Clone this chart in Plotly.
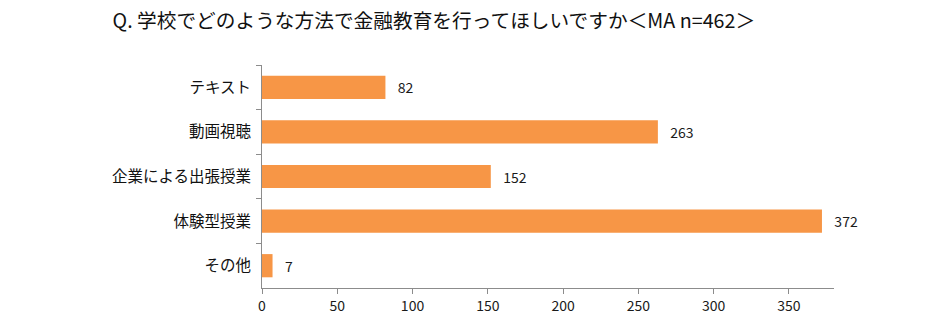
import plotly.graph_objects as go

categories = ["テキスト", "動画視聴", "企業による出張授業", "体験型授業", "その他"]
counts = [82, 263, 152, 372, 7]
x_ticks = [0, 50, 100, 150, 200, 250, 300, 350]

font_family = "Noto Sans CJK JP, sans-serif"
bar_color = "#F79646"
axis_color = "#8C8C8C"

fig = go.Figure(
    go.Bar(
        x=counts,
        y=categories,
        orientation="h",
        marker=dict(color=bar_color, line=dict(width=0)),
        # leading spaces push the value labels a little away from the bar ends
        text=["   " + str(v) for v in counts],
        textposition="outside",
        textfont=dict(family=font_family, size=14, color="#1a1a1a"),
        cliponaxis=False,
        width=0.52,
    )
)

fig.update_layout(
    width=946,
    height=327,
    margin=dict(l=262, r=112, t=65, b=34),
    paper_bgcolor="white",
    plot_bgcolor="white",
    showlegend=False,
    title=dict(
        text="Q. 学校でどのような方法で金融教育を行ってほしいですか＜MA n=462＞",
        x=0.119,
        xanchor="left",
        y=0.935,
        yanchor="middle",
        font=dict(family=font_family, size=19.7, color="#111111"),
    ),
    font=dict(family=font_family, color="#1a1a1a"),
)

fig.update_xaxes(
    range=[0, 380],
    tickvals=x_ticks,
    ticktext=[str(t) for t in x_ticks],
    showgrid=False,
    zeroline=False,
    showline=True,
    linecolor=axis_color,
    linewidth=1,
    ticks="outside",
    ticklen=5,
    tickcolor=axis_color,
    tickfont=dict(family=font_family, size=14, color="#1a1a1a"),
)

fig.update_yaxes(
    autorange="reversed",
    showgrid=False,
    zeroline=False,
    showline=True,
    linecolor=axis_color,
    linewidth=1,
    ticks="outside",
    tickson="boundaries",
    ticklen=5,
    tickcolor=axis_color,
    tickfont=dict(family=font_family, size=15.5, color="#111111"),
    ticksuffix="  ",
)

fig.write_html("out.html")
